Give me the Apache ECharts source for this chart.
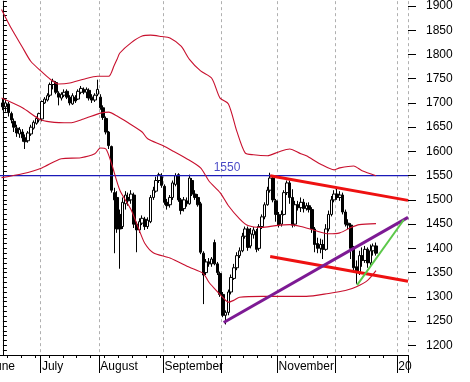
<!DOCTYPE html>
<html><head><meta charset="utf-8">
<script src="https://cdn.jsdelivr.net/npm/echarts@6/dist/echarts.min.js"></script>
<style>html,body{margin:0;padding:0;background:#fff;overflow:hidden;width:470px;height:382px}
#c{position:absolute;left:-14px;top:0;width:484px;height:382px}</style>
</head><body><div id="c"></div>
<script>
// month names on the axis and trading days shown per month (June: first 5 are off-canvas)
const monthNames = ['June','July','August','September','October','November','December','20'];
const monthLabelShown = [true,true,true,true,false,true,false,true];
const monthDays = [19,21,23,21,20,21,22,4];
const firstCandleCat = 5;

// candle values (index 0 = first visible day in June)
const opens = [1700,1692,1698,1678,1662,1648,1636,1640,1628,1622,1636,1648,1658,1665,
 1667,1700,1706,1716,1738,1742,1720,1710,1716,1724,1712,1698,1712,1708,1722,1728,1722,1726,1712,1706,1718,
 1712,1690,1668,1640,1610,1515,1505,1470,1445,1492,1505,1500,1510,1450,1438,1452,1460,1445,1455,1505,1518,1540,1548,
 1528,1495,1490,1505,1532,1552,1500,1482,1498,1492,1540,1512,1505,1492,1390,1350,1372,1368,1412,1368,1348,
 1305,1262,1268,1310,1338,1360,1385,1395,1425,1440,1405,1428,1435,1400,1445,1465,1490,1520,1545,1498,
 1470,1450,1470,1515,1535,1505,1450,1490,1484,1495,1482,1488,1480,1440,1410,1400,1408,1398,1440,1470,1500,
 1512,1505,1510,1475,1452,1448,1402,1362,1350,1385,1375,1398,1370,1395,1405];
const closes = [1692,1700,1680,1665,1650,1638,1645,1628,1620,1638,1650,1660,1668,1678,
 1703,1708,1715,1738,1745,1722,1712,1718,1722,1712,1700,1715,1704,1724,1730,1722,1728,1710,1706,1716,1728,
 1690,1670,1640,1612,1520,1500,1440,1440,1495,1510,1498,1512,1450,1438,1455,1462,1445,1458,1505,1520,1540,1552,1530,
 1495,1488,1505,1535,1550,1500,1478,1500,1492,1545,1512,1505,1490,1392,1345,1372,1368,1378,1368,1350,1305,
 1262,1268,1310,1340,1360,1385,1395,1425,1440,1402,1430,1438,1398,1445,1465,1490,1520,1545,1500,1470,
 1448,1470,1515,1535,1505,1448,1490,1484,1495,1482,1488,1480,1440,1408,1400,1408,1398,1440,1470,1500,1512,
 1505,1510,1475,1450,1448,1400,1360,1350,1385,1375,1398,1370,1395,1405,1390];
const lows = [1685,1682,1672,1658,1640,1630,1628,1620,1605,1618,1632,1645,1655,1660,
 1662,1698,1703,1712,1728,1718,1695,1705,1712,1708,1695,1696,1700,1706,1718,1718,1710,1705,1700,1702,1714,
 1686,1665,1635,1605,1515,1390,1432,1358,1440,1480,1488,1492,1442,1392,1432,1448,1438,1440,1452,1500,1515,1535,1525,
 1490,1480,1484,1500,1528,1496,1470,1476,1486,1490,1508,1500,1486,1388,1285,1345,1362,1362,1365,1345,1300,
 1258,1243,1262,1305,1335,1355,1380,1392,1420,1395,1400,1420,1392,1395,1440,1460,1488,1515,1495,1455,
 1443,1445,1468,1510,1492,1443,1445,1478,1475,1474,1478,1474,1432,1392,1390,1390,1378,1395,1435,1466,1495,
 1500,1498,1470,1445,1440,1378,1355,1327,1345,1362,1370,1360,1365,1385,1385];
const highs = [1708,1706,1702,1682,1668,1655,1650,1646,1635,1642,1655,1664,1672,1680,
 1705,1712,1720,1742,1750,1745,1724,1722,1728,1728,1716,1720,1716,1728,1735,1732,1732,1730,1718,1720,1748,
 1718,1695,1672,1642,1612,1525,1518,1480,1505,1518,1515,1520,1515,1455,1462,1468,1465,1464,1510,1527,1548,1556,1555,
 1532,1502,1510,1540,1555,1555,1504,1506,1505,1552,1545,1520,1512,1496,1394,1378,1380,1382,1418,1372,1352,
 1310,1272,1315,1346,1368,1392,1402,1432,1445,1445,1442,1444,1440,1450,1470,1495,1527,1556,1550,1502,
 1475,1478,1520,1540,1540,1522,1498,1498,1505,1502,1494,1495,1485,1444,1422,1420,1418,1450,1478,1508,1520,
 1525,1518,1515,1480,1460,1452,1405,1375,1395,1402,1405,1402,1408,1410,1412];

// Bollinger bands: [day index, value]
const upperBand = [[-0.5,1893],[3,1854],[7,1815],[10,1786],[14,1764],[17,1749],[20,1739],[24,1741],[29,1749],[34,1755],
 [38,1755],[40,1778],[41,1790],[42,1803],[46,1824],[50,1838],[53,1840],[57,1837],[60,1834],[64,1817],[67,1790],
 [71,1766],[75,1751],[78,1710],[81,1698],[84,1642],[87,1597],[90,1593],[95,1591],[99,1599],[103,1605],[107,1595],
 [109,1591],[114,1574],[119,1562],[121,1566],[126,1570],[129,1560],[134,1550]];
const middleBand = [[-0.5,1710],[7,1690],[13,1667],[17,1661],[24,1659],[29,1667],[35,1679],[38,1681],[41,1673],
 [45,1659],[50,1640],[52,1626],[57,1613],[61,1601],[66,1585],[71,1566],[74,1539],[78,1515],[81,1488],[85,1461],
 [88,1447],[93,1443],[98,1447],[103,1449],[107,1445],[112,1437],[117,1430],[121,1432],[125,1443],[128,1449],[134,1451]];
const lowerBand = [[-0.5,1546],[7,1554],[14,1566],[21,1585],[28,1587],[33,1595],[35,1607],[37,1605],[39,1575],
 [42,1520],[46,1480],[49,1437],[51,1410],[54,1391],[60,1380],[67,1361],[72,1348],[74,1330],[76,1317],[79,1299],
 [81,1289],[83,1293],[85,1299],[93,1301],[103,1301],[109,1301],[117,1307],[123,1313],[127,1321],[131,1334],[134,1354]];

// drawn trend lines: [day index, value]
const resistanceLine = [[96,1550],[145.5,1499]];
const supportLine = [[96,1383],[145.5,1332]];
const purpleLine = [[79.3,1247],[145.5,1464]];
const greenLine = [[127.2,1324],[144,1459]];
const levelLine = [[-5.5,1550],[145.5,1550]];
const levelLabel = [[80.5,1550]];

// y axis ticks
const yMajor = [1200,1250,1300,1350,1400,1450,1500,1550,1600,1650,1700,1750,1800,1850,1900];

// build categories
const cats = [];
const monthStart = {};
let acc = 0;
monthNames.forEach((m, mi) => {
  monthStart[acc] = mi;
  for (let d = 0; d < monthDays[mi]; d++) cats.push(m + ' ' + (d + 1));
  acc += monthDays[mi];
});
const candleData = opens.map((o, i) => [i + firstCandleCat, o, closes[i], lows[i], highs[i]]);

const font = "'Liberation Sans', Arial, sans-serif";
const navy = '#1a1ab8';
const bandRed = '#c8102e';
const chart = echarts.init(document.getElementById('c'), null, {renderer: 'canvas', width: 484, height: 382});
chart.setOption({
  animation: false,
  backgroundColor: '#ffffff',
  grid: {left: 0, right: 62, top: 0, bottom: 27, containLabel: false},
  xAxis: [{
    type: 'category', data: cats, boundaryGap: true,
    axisLine: {show: true, lineStyle: {color: '#000', width: 1}},
    axisTick: {show: true, length: 3, interval: (i) => (i % 5) === 2, lineStyle: {color: '#000'}},
    axisLabel: {
      show: true, interval: (i) => monthStart[i] !== undefined && monthLabelShown[monthStart[i]],
      formatter: (v, i) => monthNames[monthStart[i]] || '',
      align: 'left', margin: 6, color: '#000', fontSize: 12, fontFamily: font
    },
    splitLine: {show: true, interval: (i) => monthStart[i] !== undefined, lineStyle: {color: '#b0b0b0', type: [3, 3], width: 1}}
  }, {
    type: 'category', data: cats, boundaryGap: true, position: 'bottom',
    axisLine: {show: false},
    axisTick: {show: true, length: 18, interval: (i) => monthStart[i] !== undefined, lineStyle: {color: '#000'}},
    axisLabel: {show: false}, splitLine: {show: false}
  }, {
    type: 'value', min: -5.5, max: 145.5, show: false
  }],
  yAxis: [{
    type: 'value', position: 'right', min: 1180, max: 1910, interval: 10,
    axisLine: {show: true, lineStyle: {color: '#000'}},
    axisTick: {show: true, length: 4, lineStyle: {color: '#000'}},
    axisLabel: {show: true, margin: 18, color: '#000', fontSize: 12, fontFamily: font,
      formatter: (v) => (Math.round(v) % 50 === 0 && v >= 1200 && v <= 1900) ? String(Math.round(v)) : ''},
    splitLine: {show: false}
  }, {
    type: 'value', position: 'right', min: 1180, max: 1910, interval: 10,
    axisLine: {show: false},
    axisTick: {show: true, length: 8, customValues: yMajor, lineStyle: {color: '#000'}},
    axisLabel: {show: false}, splitLine: {show: false}
  }],
  series: [
  {type: 'line', xAxisIndex: 2, data: levelLine, showSymbol: false, lineStyle: {color: navy, width: 1.2}},
  {
    type: 'candlestick', xAxisIndex: 0, yAxisIndex: 0,
    data: candleData, encode: {x: 0, y: [1, 2, 3, 4]},
    barWidth: 3,
    itemStyle: {color: '#ffffff', color0: '#000000', borderColor: '#000000', borderColor0: '#000000', borderWidth: 1}
  },
  {type: 'line', xAxisIndex: 2, data: upperBand, smooth: 0.25, showSymbol: false, lineStyle: {color: bandRed, width: 1.1}},
  {type: 'line', xAxisIndex: 2, data: middleBand, smooth: 0.25, showSymbol: false, lineStyle: {color: bandRed, width: 1.1}},
  {type: 'line', xAxisIndex: 2, data: lowerBand, smooth: 0.25, showSymbol: false, lineStyle: {color: bandRed, width: 1.1}},
  {type: 'line', xAxisIndex: 2, data: resistanceLine, showSymbol: false, lineStyle: {color: '#ee1111', width: 3}},
  {type: 'line', xAxisIndex: 2, data: supportLine, showSymbol: false, lineStyle: {color: '#ee1111', width: 3}},
  {type: 'line', xAxisIndex: 2, data: purpleLine, showSymbol: false, lineStyle: {color: '#7d1a94', width: 3}},
  {type: 'line', xAxisIndex: 2, data: greenLine, showSymbol: false, lineStyle: {color: '#5cc84a', width: 2}},
  {type: 'scatter', xAxisIndex: 2, data: levelLabel, symbolSize: 0,
    label: {show: true, position: 'top', distance: 2, formatter: '1550', color: navy, fontSize: 12, fontFamily: font}}
  ]
});
</script></body></html>
